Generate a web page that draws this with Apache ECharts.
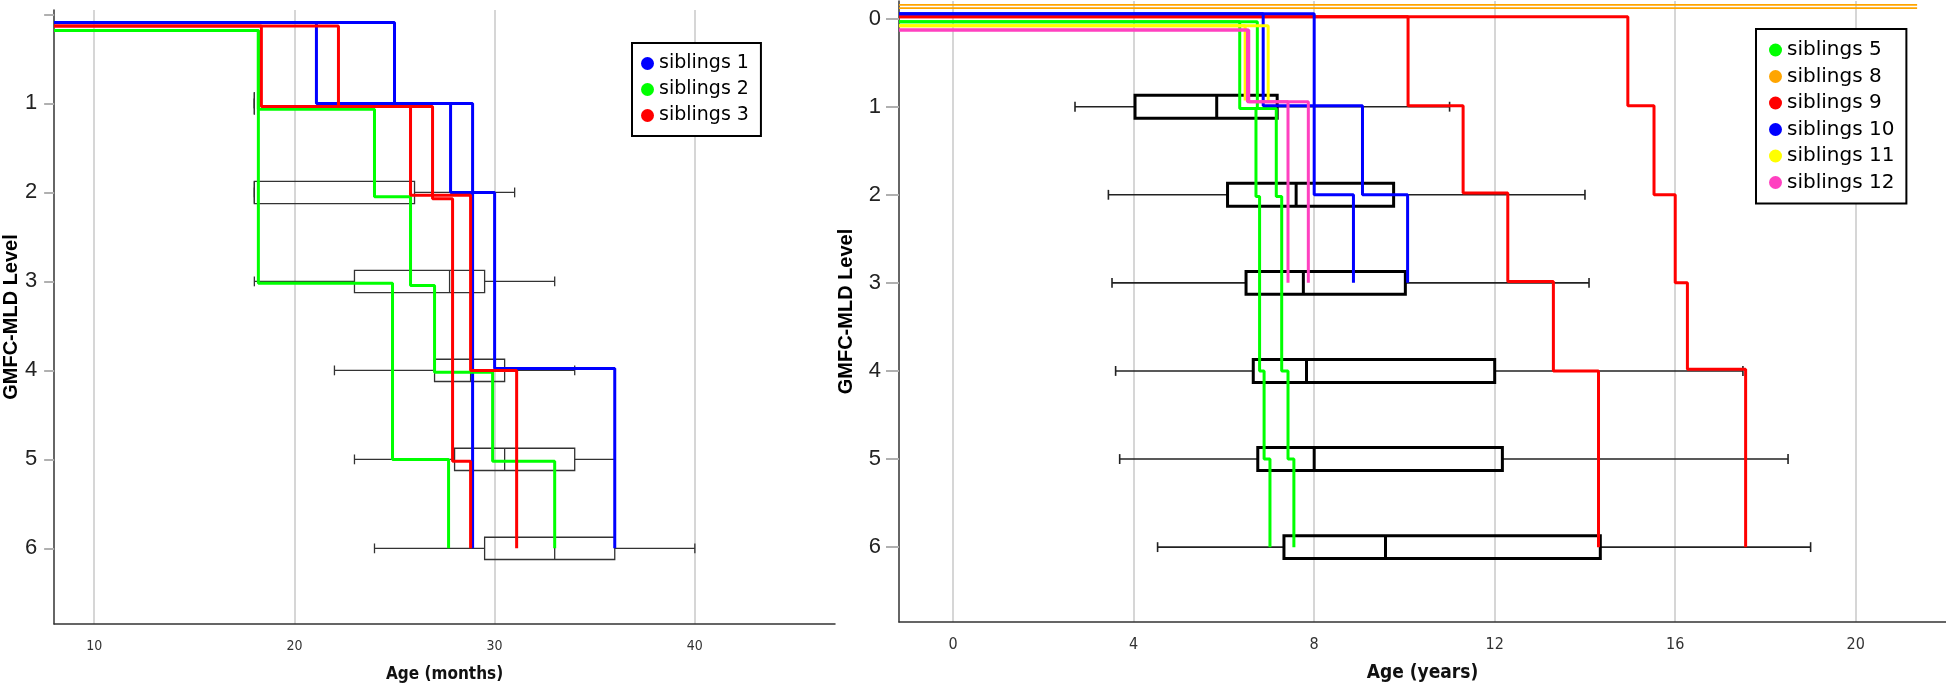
<!DOCTYPE html>
<html><head><meta charset="utf-8">
<script src="https://cdn.jsdelivr.net/npm/echarts@6/dist/echarts.min.js"></script>
<style>html,body{margin:0;padding:0;background:#fff}#c{width:1946px;height:688px}</style>
</head><body><div id="c"></div>
<script>
// ---------- Left panel: age in months ----------
const monthTicks = [10, 20, 30, 40];
const levelTicksLeft = [0, 1, 2, 3, 4, 5, 6];
const levelLabelsLeft = [1, 2, 3, 4, 5, 6];
// step lines: [age at change, new level]
const sib1a = [[8, 0.09], [21.1, 1.0], [27.8, 2.0], [30.0, 3.98], [36.0, 6]];
const sib1b = [[8, 0.09], [25.0, 1.0], [28.9, 6]];
const sib2a = [[8, 0.18], [18.2, 1.065], [24.0, 2.05], [25.8, 3.045], [27.0, 4.02], [29.9, 5.02], [33.0, 6]];
const sib2b = [[8, 0.18], [18.2, 3.02], [24.9, 5.0], [27.7, 6]];
const sib3a = [[8, 0.13], [18.35, 1.035], [25.8, 2.033], [28.8, 4.0], [31.1, 6]];
const sib3b = [[8, 0.13], [22.2, 1.035], [26.9, 2.07], [27.9, 5.02], [28.8, 6]];
// boxes: [level, min, q1, median, q3, max]
const boxesMonths = [
  [1, 18, 18, 18, 18, 18],
  [2, 18, 18, 18, 26, 31],
  [3, 18, 23, 27.75, 29.5, 33],
  [4, 22, 27, 28.8, 30.5, 34],
  [5, 23, 28, 30.5, 34, 36],
  [6, 24, 29.5, 33, 36, 40]
];

// ---------- Right panel: age in years ----------
const yearTicks = [0, 4, 8, 12, 16, 20];
const levelTicksRight = [0, 1, 2, 3, 4, 5, 6];
const sib5a = [[-1.2, 0.035], [6.35, 1.02], [6.71, 2.02], [6.79, 4.0], [6.89, 5.0], [7.02, 6]];
const sib5b = [[-1.2, 0.035], [6.74, 1.02], [7.16, 2.02], [7.28, 4.0], [7.42, 5.0], [7.55, 6]];
const sib8a = [[-1.2, -0.155], [21.36, -0.155]];
const sib8b = [[-1.2, -0.12], [21.36, -0.12]];
const sib9a = [[-1.2, -0.02], [14.95, 0.99], [15.53, 2.0], [16.0, 3.0], [16.27, 3.98], [17.56, 6]];
const sib9b = [[-1.2, -0.02], [10.08, 0.99], [11.3, 1.98], [12.29, 2.985], [13.3, 4.0], [14.3, 6]];
const sib10a = [[-1.2, -0.055], [8.0, 2.0], [8.87, 3.0]];
const sib10b = [[-1.2, -0.055], [6.87, 0.99], [9.07, 2.0], [10.07, 3.0]];
const sib11a = [[-1.2, 0.08], [6.47, 0.93]];
const sib11b = [[-1.2, 0.08], [6.98, 0.93]];
const sib12a = [[-1.2, 0.13], [6.52, 0.945], [7.42, 3.0]];
const sib12b = [[-1.2, 0.13], [6.55, 0.945], [7.87, 3.0]];
const boxesYears = [
  [1, 2.7, 4.03, 5.84, 7.18, 11.0],
  [2, 3.44, 6.08, 7.6, 9.76, 14.0],
  [3, 3.52, 6.49, 7.76, 10.02, 14.09],
  [4, 3.6, 6.65, 7.83, 12.0, 17.5],
  [5, 3.69, 6.75, 8.0, 12.17, 18.5],
  [6, 4.53, 7.33, 9.58, 14.34, 19.0]
];

const C = {blue: '#0000ff', green: '#00ff00', red: '#ff0000', orange: '#ffa500', yellow: '#ffff00', pink: '#ff40c0'};

function stepLine(name, color, data, idx, width) {
  return {
    type: 'line', name: name, data: data, step: 'end', xAxisIndex: idx, yAxisIndex: idx,
    showSymbol: false, symbol: 'circle', color: color, itemStyle: {color: color},
    lineStyle: {color: color, width: width || 3}, z: 3, silent: true, clip: false
  };
}

function boxRender(halfH, capH, boxW, whiskW, boxColor, whiskColor) {
  return function (params, api) {
    const lv = api.value(0);
    const p = [1, 2, 3, 4, 5].map(i => api.coord([api.value(i), lv]));
    const y = p[0][1];
    const h = api.size([0, halfH])[1];
    const c = api.size([0, capH])[1];
    const wl = {stroke: whiskColor, lineWidth: whiskW, fill: null};
    const bl = {stroke: boxColor, lineWidth: boxW, fill: null};
    return {
      type: 'group',
      children: [
        {type: 'line', shape: {x1: p[0][0], y1: y, x2: p[1][0], y2: y}, style: wl},
        {type: 'line', shape: {x1: p[3][0], y1: y, x2: p[4][0], y2: y}, style: wl},
        {type: 'line', shape: {x1: p[0][0], y1: y - c, x2: p[0][0], y2: y + c}, style: wl},
        {type: 'line', shape: {x1: p[4][0], y1: y - c, x2: p[4][0], y2: y + c}, style: wl},
        {type: 'rect', shape: {x: p[1][0], y: y - h, width: p[3][0] - p[1][0], height: 2 * h}, style: bl},
        {type: 'line', shape: {x1: p[2][0], y1: y - h, x2: p[2][0], y2: y + h}, style: bl}
      ]
    };
  };
}

const narrow = "'Liberation Sans Narrow', 'DejaVu Sans Condensed', 'Liberation Sans', sans-serif";
const sans = "'Liberation Sans', Arial, sans-serif";

function xAxisCfg(idx, min, max, ticks, name, fs, nameFs) {
  return {
    type: 'value', gridIndex: idx, min: min, max: max,
    name: name, nameLocation: 'middle', nameGap: 42,
    nameTextStyle: {fontFamily: narrow, fontWeight: 'bold', fontSize: nameFs, color: '#111'},
    axisLine: {show: true, onZero: false, lineStyle: {color: '#333', width: 1.5}},
    axisTick: {show: false, customValues: ticks},
    axisLabel: {customValues: ticks, margin: 15, fontFamily: narrow, fontSize: fs, color: '#333'},
    splitLine: {show: true, lineStyle: {color: '#c8c8c8', width: 1.5}}
  };
}
function yAxisCfg(idx, min, max, ticks, labels, nameGap, tickLen, margin) {
  return {
    type: 'value', gridIndex: idx, inverse: true, min: min, max: max,
    name: 'GMFC-MLD Level', nameLocation: 'middle', nameGap: nameGap, nameRotate: 90,
    nameTextStyle: {fontFamily: sans, fontWeight: 'bold', fontSize: 20, color: '#000'},
    axisLine: {show: true, onZero: false, lineStyle: {color: '#333', width: 1.5}},
    axisTick: {show: true, customValues: ticks, length: tickLen, lineStyle: {color: '#b0b0b0', width: 2}},
    axisLabel: {customValues: labels, margin: margin, fontFamily: sans, fontSize: 22, color: '#222'},
    splitLine: {show: false}
  };
}

const legendBase = {
  orient: 'vertical', icon: 'circle', itemWidth: 13, itemHeight: 13,
  borderColor: '#000', borderWidth: 2, backgroundColor: '#fff',
  textStyle: {fontFamily: "'DejaVu Sans', Verdana, sans-serif", color: '#000'},
  selectedMode: false
};

const option = {
  animation: false,
  backgroundColor: '#fff',
  grid: [
    {left: 45, top: 10, width: 790, height: 616},
    {left: 899, top: 1, right: 0, height: 623}
  ],
  xAxis: [
    xAxisCfg(0, 8, 47, monthTicks, 'Age (months)', 14, 17),
    xAxisCfg(1, -1.2, 22, yearTicks, 'Age (years)', 16, 19)
  ],
  yAxis: [
    yAxisCfg(0, -0.05, 6.85, levelTicksLeft, levelLabelsLeft, 27, 10, 17),
    yAxisCfg(1, -0.2, 6.85, levelTicksRight, levelTicksRight, 43, 13, 18)
  ],
  legend: [
    Object.assign({}, legendBase, {left: 632, top: 43, itemGap: 7, padding: [11, 12, 11, 9],
      textStyle: Object.assign({}, legendBase.textStyle, {fontSize: 19}),
      data: ['siblings 1', 'siblings 2', 'siblings 3']}),
    Object.assign({}, legendBase, {left: 1756, top: 29, itemGap: 6.5, padding: [11, 12, 11, 13],
      textStyle: Object.assign({}, legendBase.textStyle, {fontSize: 20}),
      data: ['siblings 5', 'siblings 8', 'siblings 9', 'siblings 10', 'siblings 11', 'siblings 12']})
  ],
  series: [
    {type: 'custom', xAxisIndex: 0, yAxisIndex: 0, data: boxesMonths, z: 2, silent: true, clip: false,
      encode: {x: [1, 2, 3, 4, 5], y: 0},
      renderItem: boxRender(0.125, 0.055, 1.3, 1.3, '#333', '#333')},
    {type: 'custom', xAxisIndex: 1, yAxisIndex: 1, data: boxesYears, z: 2, silent: true, clip: false,
      encode: {x: [1, 2, 3, 4, 5], y: 0},
      renderItem: boxRender(0.13, 0.056, 3, 1.6, '#000', '#222')},
    stepLine('siblings 1', C.blue, sib1a, 0),
    stepLine('siblings 1', C.blue, sib1b, 0),
    stepLine('siblings 2', C.green, sib2a, 0),
    stepLine('siblings 2', C.green, sib2b, 0),
    stepLine('siblings 3', C.red, sib3a, 0),
    stepLine('siblings 3', C.red, sib3b, 0),
    stepLine('siblings 5', C.green, sib5a, 1),
    stepLine('siblings 5', C.green, sib5b, 1),
    stepLine('siblings 8', C.orange, sib8a, 1, 1.8),
    stepLine('siblings 8', C.orange, sib8b, 1, 1.8),
    stepLine('siblings 9', C.red, sib9a, 1),
    stepLine('siblings 9', C.red, sib9b, 1),
    stepLine('siblings 10', C.blue, sib10a, 1),
    stepLine('siblings 10', C.blue, sib10b, 1),
    stepLine('siblings 11', C.yellow, sib11a, 1),
    stepLine('siblings 11', C.yellow, sib11b, 1),
    stepLine('siblings 12', C.pink, sib12a, 1),
    stepLine('siblings 12', C.pink, sib12b, 1)
  ]
};
echarts.init(document.getElementById('c')).setOption(option);
</script></body></html>
